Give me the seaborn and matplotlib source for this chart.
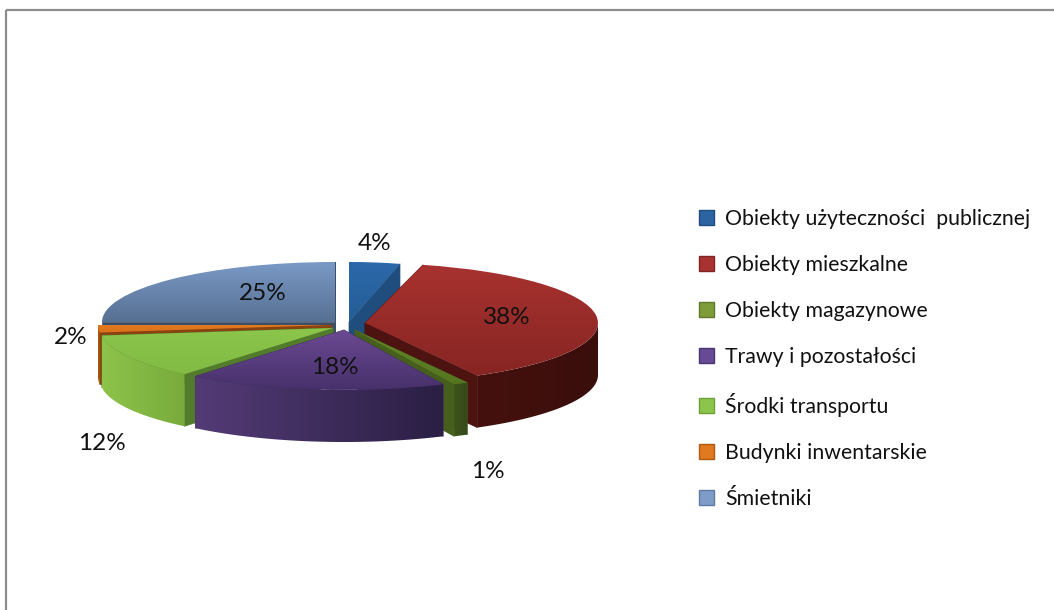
import numpy as np
import matplotlib
matplotlib.use('Agg')
import matplotlib.pyplot as plt
from matplotlib.collections import PolyCollection
from matplotlib.patches import Patch, Polygon, Rectangle
from matplotlib.transforms import Affine2D
import seaborn as sns

# chart values
categories = ['Obiekty użyteczności  publicznej', 'Obiekty mieszkalne', 'Obiekty magazynowe',
              'Trawy i pozostałości', 'Środki transportu', 'Budynki inwentarskie', 'Śmietniki']
values = [4, 38, 1, 18, 12, 2, 25]

# colours per slice
legend_colors = ['#2B64A0', '#A83230', '#7F9C3A', '#664A95', '#8CC44C', '#E0791F', '#7F9CC8']
legend_edges = ['#1F4D7E', '#7E2422', '#5F7A2A', '#4A3570', '#6FA038', '#B05A12', '#5F7AA3']
top_start = ['#2C69AB', '#A8322F', '#64892A', '#6C4A94', '#8CC64B', '#E47C20', '#7B9AC8']
top_end = ['#255C94', '#862523', '#55741F', '#452F68', '#82BB44', '#D96F18', '#566F90']
rim_left = ['#24578C', '#45110E', '#3D5318', '#533B76', '#8DC34A', '#AD5310', '#566F90']
rim_right = ['#24578C', '#3A0E0B', '#35491A', '#2B1F44', '#78AB3C', '#AD5310', '#566F90']
cut_faces = ['#1F4D7E', '#4C1311', '#465F1D', '#3C2A5C', '#527C2C', '#8A4210', '#3B4F69']

# layout in pixels, per slice
centers_x = [349, 365, 355, 344, 333, 331, 335]
centers_y = [322, 323, 330, 330, 328, 325, 322]
radius_x = [205, 233, 233, 233, 233, 233, 233]
radius_y = 60
depth = 52
draw_order = [6, 5, 0, 1, 4, 2, 3]
pct_x = [375, 507, 488, 335, 102, 71, 263]
pct_y = [243, 317, 471, 367, 443, 337, 293]

W, H = 1054, 610

sns.set_theme(style='white')
plt.rcParams['font.family'] = ['Lato', 'DejaVu Sans']

fig = plt.figure(figsize=(W / 100, H / 100), dpi=100, facecolor='white')
ax = fig.add_axes([0, 0, 1, 1])

wedges, _ = ax.pie(values, startangle=90, counterclock=False, radius=1)
ax.set_aspect('auto')
ax.axis('off')


def lerp_colors(c1, c2, n):
    return np.linspace(matplotlib.colors.to_rgb(c1), matplotlib.colors.to_rgb(c2), n)


z = 2
for i in draw_order:
    w = wedges[i]
    tr = Affine2D().scale(radius_x[i], -radius_y).translate(centers_x[i], centers_y[i])
    t1, t2 = np.radians(w.theta1), np.radians(w.theta2)

    # cut faces, from the centre to both ends of the arc
    faces = []
    for t in (t1, t2):
        a = tr.transform((0, 0))
        b = tr.transform((np.cos(t), np.sin(t)))
        faces.append([a, b, b + (0, depth), a + (0, depth)])
    ax.add_collection(PolyCollection(faces, facecolors=cut_faces[i], edgecolors=cut_faces[i],
                                     linewidths=0.5, zorder=z))
    z += 1

    # rim, front half of the arc with a left to right gradient
    ts = np.linspace(t1, t2, 90)
    ts = ts[np.sin(ts) <= 0.02]
    if len(ts) > 1:
        pts = tr.transform(np.column_stack([np.cos(ts), np.sin(ts)]))
        pts = pts[np.argsort(pts[:, 0])]
        rim = Polygon(np.vstack([pts, pts[::-1] + (0, depth)]), transform=ax.transData)
        grad = lerp_colors(rim_left[i], rim_right[i], 64).reshape(1, 64, 3)
        im = ax.imshow(grad, extent=(pts[0, 0], pts[-1, 0], pts[:, 1].max() + depth + 1, pts[:, 1].min() - 1),
                       aspect='auto', interpolation='bilinear', zorder=z)
        im.set_clip_path(rim)
        z += 1

    # top face, vertical gradient clipped to the wedge
    w.set_transform(tr + ax.transData)
    w.set_facecolor('none')
    w.set_edgecolor('none')
    w.set_zorder(z)
    verts = tr.transform(w.get_path().vertices)
    x0, x1 = verts[:, 0].min() - 2, verts[:, 0].max() + 2
    y0, y1 = verts[:, 1].min() - 2, verts[:, 1].max() + 2
    grad = lerp_colors(top_start[i], top_end[i], 64).reshape(64, 1, 3)
    im = ax.imshow(grad, extent=(x0, x1, y1, y0), aspect='auto', interpolation='bilinear', zorder=z)
    im.set_clip_path(w)
    z += 1

ax.set_xlim(0, W)
ax.set_ylim(H, 0)

# outer border
ax.add_patch(Rectangle((6, 10), 1200, 800, fill=False, edgecolor='#8C8C8C', linewidth=1.6,
                       zorder=1, clip_on=True))

for v, px, py in zip(values, pct_x, pct_y):
    ax.text(px, py, f'{v}%', ha='center', va='center', fontsize=17.5, color='#111111', zorder=50)

handles = [Patch(facecolor=c, edgecolor=e, linewidth=1) for c, e in zip(legend_colors, legend_edges)]
leg = ax.legend(handles, categories, loc='upper left', bbox_to_anchor=(699 / W, 1 - 209 / H),
                frameon=False, fontsize=15.3, handlelength=0.72, handleheight=0.72,
                handletextpad=0.5, labelspacing=1.22, borderpad=0, borderaxespad=0,
                labelcolor='#111111')

fig.savefig('out.png', dpi=100, facecolor='white')
